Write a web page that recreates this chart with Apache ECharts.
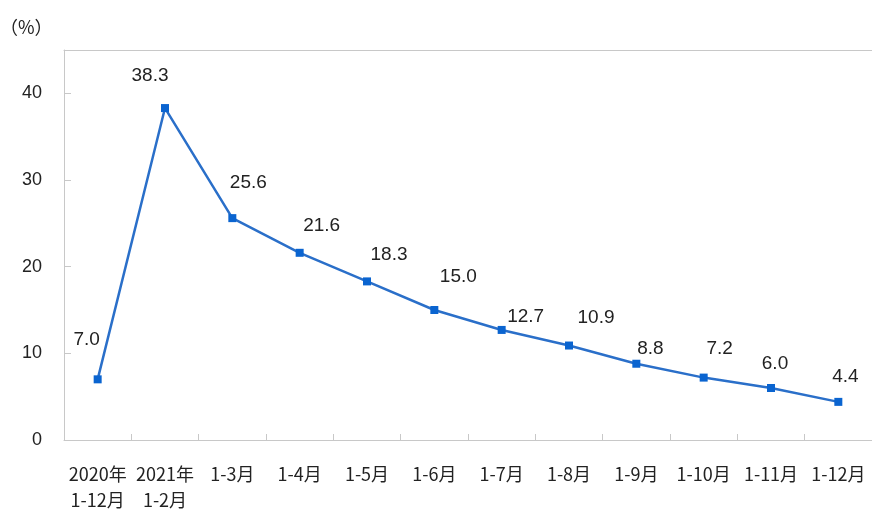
<!DOCTYPE html>
<html>
<head>
<meta charset="utf-8">
<script src="https://cdn.jsdelivr.net/npm/echarts@6/dist/echarts.min.js"></script>
<style>html,body{margin:0;padding:0;background:#fff;}#c{width:872px;height:513px;}</style>
</head>
<body>
<div id="c"></div>
<script>
var categories = ['2020年\n1-12月', '2021年\n1-2月', '1-3月', '1-4月', '1-5月', '1-6月', '1-7月', '1-8月', '1-9月', '1-10月', '1-11月', '1-12月'];
var values = [7.0, 38.3, 25.6, 21.6, 18.3, 15.0, 12.7, 10.9, 8.8, 7.2, 6.0, 4.4];
var yTicks = [0, 10, 20, 30, 40];
var unitLabel = '（%）';

// label placement (styling only)
var labelOffsets = [[-11, -40], [-15, -32], [16, -35], [22, -27], [22, -27], [24, -33], [24, -13], [27, -28], [14, -15], [16, -29], [4, -24], [7, -25]];

var chart = echarts.init(document.getElementById('c'), null, {renderer: 'canvas', width: 872, height: 513});
var seriesData = values.map(function (v, i) {
  return {
    value: v,
    label: {offset: labelOffsets[i]}
  };
});
chart.setOption({
  animation: false,
  backgroundColor: '#ffffff',
  title: {
    text: unitLabel,
    left: -5,
    top: 13,
    textStyle: {fontSize: 18, fontWeight: 'normal', color: '#222', fontFamily: 'Noto Sans CJK SC'}
  },
  grid: {
    left: 64, top: 50, width: 810, height: 393
  },
  xAxis: [{
    type: 'category',
    data: categories,
    boundaryGap: true,
    axisLine: {lineStyle: {color: '#c8c8c8', width: 1}},
    axisTick: {show: true, inside: true, length: 6, lineStyle: {color: '#c8c8c8'}},
    axisLabel: {
      color: '#222', fontSize: 18, lineHeight: 26, margin: 21,
      fontFamily: 'Noto Sans CJK SC', interval: 0
    },
    splitLine: {show: false}
  }, {
    type: 'category',
    data: categories,
    position: 'top',
    axisLine: {show: true, lineStyle: {color: '#c8c8c8', width: 1}},
    axisTick: {show: false},
    axisLabel: {show: false},
    splitLine: {show: false}
  }],
  yAxis: {
    type: 'value',
    min: 0, max: 45, interval: 10,
    axisLine: {show: true, lineStyle: {color: '#c8c8c8', width: 1}},
    axisTick: {show: true, inside: true, length: 7, lineStyle: {color: '#c8c8c8'}},
    axisLabel: {
      color: '#222', fontSize: 18, margin: 22, showMaxLabel: false,
      fontFamily: 'Liberation Sans',
      formatter: function (v) { return yTicks.indexOf(v) >= 0 ? String(v) : ''; }
    },
    splitLine: {show: false}
  },
  series: [{
    type: 'line',
    data: seriesData,
    symbol: 'rect',
    symbolSize: 8,
    lineStyle: {color: '#2a6fc9', width: 2.5},
    itemStyle: {color: '#0a64d0'},
    label: {
      show: true,
      position: 'inside',
      color: '#222',
      fontSize: 19,
      fontFamily: 'Liberation Sans',
      formatter: function (p) { return p.value.toFixed(1); }
    }
  }]
});
</script>
</body>
</html>
